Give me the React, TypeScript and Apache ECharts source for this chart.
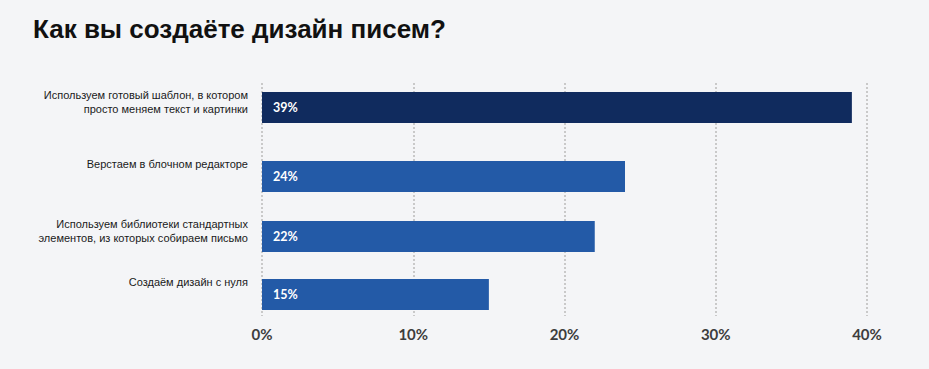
import React, { useEffect, useRef } from 'react';
import * as echarts from 'echarts';

const chartTitle = 'Как вы создаёте дизайн писем?';
const categories = [
  'Используем готовый шаблон, в котором\nпросто меняем текст и картинки',
  'Верстаем в блочном редакторе',
  'Используем библиотеки стандартных\nэлементов, из которых собираем письмо',
  'Создаём дизайн с нуля',
];
const values = [39, 24, 22, 15];
const barColors = ['#102b5e', '#235aa7', '#235aa7', '#235aa7'];
const xMin = 0;
const xMax = 40;
const xInterval = 10;

// layout
const GRID_LEFT = 262;
const GRID_WIDTH = 605;
const barTops = [92, 161, 221, 279];
const BAR_H = 31;
const LINE_H = 13.5;
const LIFT = 3.5;

export default function App() {
  const ref = useRef<HTMLDivElement>(null);
  useEffect(() => {
    document.body.style.margin = '0';
    document.body.style.background = '#f4f5f7';
    const chart = echarts.init(ref.current!, null, { renderer: 'svg' });
    const grids: any[] = [{ left: GRID_LEFT, width: GRID_WIDTH, top: 83, height: 233 }];
    const xAxes: any[] = [
      {
        gridIndex: 0,
        type: 'value',
        min: xMin,
        max: xMax,
        interval: xInterval,
        axisLine: { show: false },
        axisTick: { show: false },
        splitLine: { show: true, lineStyle: { color: '#c9c9c9', width: 2, type: [2, 2] } },
        axisLabel: {
          formatter: '{value}%',
          margin: 10,
          color: '#3d3d3d',
          fontFamily: 'Lato',
          fontWeight: 'bold',
          fontSize: 15,
        },
      },
    ];
    const yAxes: any[] = [{ gridIndex: 0, type: 'category', data: [''], show: false }];
    const series: any[] = [];
    const spacer = (n: number) => BAR_H - n * LINE_H + 2 * LIFT;
    values.forEach((v, i) => {
      grids.push({ left: GRID_LEFT, width: GRID_WIDTH, top: barTops[i], height: BAR_H });
      xAxes.push({ gridIndex: i + 1, type: 'value', min: xMin, max: xMax, show: false, splitLine: { show: false } });
      yAxes.push({
        gridIndex: i + 1,
        type: 'category',
        data: [categories[i]],
        axisLine: { show: false },
        axisTick: { show: false },
        splitLine: { show: false },
        axisLabel: {
          margin: 14,
          align: 'right',
          verticalAlign: 'middle',
          formatter: (val: string) => {
            const lines = val.split('\n');
            return lines.map((l) => `{t|${l}}`).join('\n') + `\n{g${lines.length}| }`;
          },
          rich: {
            t: { fontFamily: 'Liberation Sans', fontSize: 11, lineHeight: LINE_H, color: '#1a1a1a', align: 'right' },
            g1: { fontSize: 1, lineHeight: spacer(1), height: spacer(1) },
            g2: { fontSize: 1, lineHeight: spacer(2), height: spacer(2) },
          },
        },
      });
      series.push({
        type: 'bar',
        xAxisIndex: i + 1,
        yAxisIndex: i + 1,
        data: [v],
        barWidth: BAR_H,
        itemStyle: { color: barColors[i] },
        label: {
          show: true,
          position: 'insideLeft',
          distance: 11,
          formatter: '{c}%',
          color: '#ffffff',
          fontFamily: 'Lato',
          fontWeight: 'bold',
          fontSize: 12.5,
        },
      });
    });
    chart.setOption({
      animation: false,
      backgroundColor: '#f4f5f7',
      title: {
        text: chartTitle,
        left: 33,
        top: 16,
        padding: 0,
        textStyle: { fontFamily: 'Liberation Sans', fontWeight: 'bold', fontSize: 26, color: '#111111' },
      },
      grid: grids,
      xAxis: xAxes,
      yAxis: yAxes,
      series,
    });
    return () => chart.dispose();
  }, []);
  return <div ref={ref} style={{ width: 929, height: 369 }} />;
}
